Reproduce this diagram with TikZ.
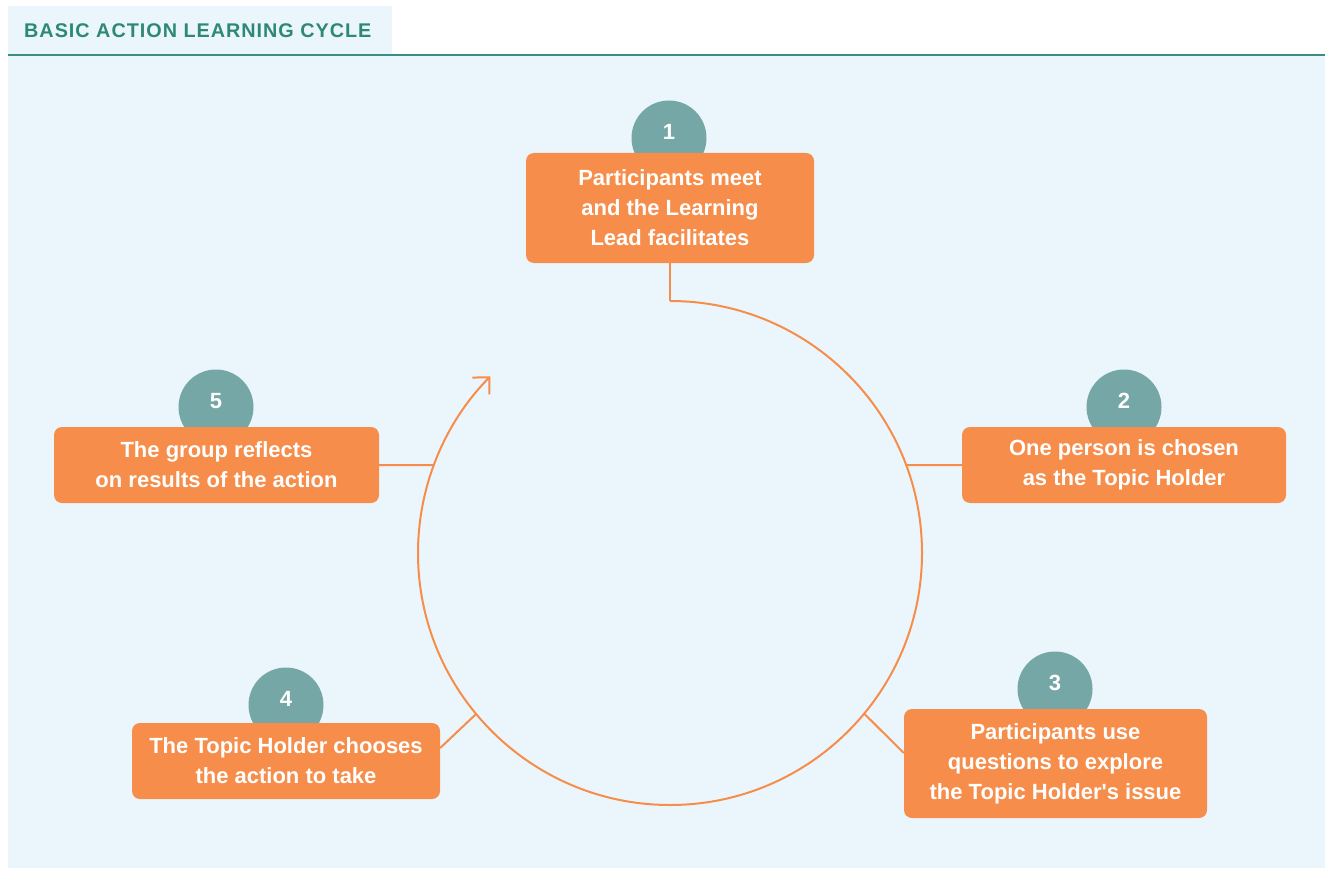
\documentclass[tikz,border=0pt]{standalone}
\usepackage{fontspec}
\setmainfont{Liberation Sans}[Ligatures=TeXOff]
\newfontfamily\titlefont[LetterSpace=5]{Liberation Sans}
\usetikzlibrary{arrows.meta}
\definecolor{bgblue}{HTML}{EBF6FC}
\definecolor{boxorange}{HTML}{F68D4A}
\definecolor{lineorange}{HTML}{F68D4A}
\definecolor{dotteal}{HTML}{74A7A5}
\definecolor{titleteal}{HTML}{2E8878}
\definecolor{ruleteal}{HTML}{3B8E82}
\begin{document}
\begin{tikzpicture}[x=1pt,y=-1pt,
  stepbox/.style={fill=boxorange, rounded corners=8pt, text=white,
    font=\bfseries\fontsize{22}{30}\selectfont, align=center, inner sep=0pt},
  numdot/.style={circle, fill=dotteal, minimum size=75pt, inner sep=0pt},
  numtext/.style={text=white, font=\bfseries\fontsize{22}{26}\selectfont, inner sep=0pt},
  link/.style={draw=lineorange, line width=2pt}]
\useasboundingbox (0,0) rectangle (1325,869);
\fill[bgblue] (8,6) rectangle (392,54);
\fill[bgblue] (8,56) rectangle (1325,868);
\draw[ruleteal, line width=2pt] (8,55) -- (1325,55);
\node[anchor=base west, text=titleteal, inner sep=0pt,
  font=\titlefont\bfseries\fontsize{19.8}{22}\selectfont] (title) at (24,38) {BASIC ACTION LEARNING CYCLE};

% number dots
\node[numdot] (d1) at (669,138) {};
\node[numdot] (d2) at (1124,407) {};
\node[numdot] (d3) at (1055,689) {};
\node[numdot] (d4) at (286,705) {};
\node[numdot] (d5) at (216,407) {};
\node[numtext] (n1) at ([yshift=6pt]d1.center) {1};
\node[numtext] (n2) at ([yshift=6pt]d2.center) {2};
\node[numtext] (n3) at ([yshift=6pt]d3.center) {3};
\node[numtext] (n4) at ([yshift=6pt]d4.center) {4};
\node[numtext] (n5) at ([yshift=6pt]d5.center) {5};

% boxes
\node[stepbox, minimum width=288pt, minimum height=110pt] (b1) at (670,208)
  {Participants meet\\and the Learning\\Lead facilitates};
\node[stepbox, minimum width=324pt, minimum height=76pt] (b2) at (1124,465)
  {One person is chosen\\as the Topic Holder};
\node[stepbox, minimum width=303pt, minimum height=109pt] (b3) at (1055.5,763.5)
  {Participants use\\questions to explore\\the Topic Holder's issue};
\node[stepbox, minimum width=308pt, minimum height=76pt] (b4) at (286,761)
  {The Topic Holder chooses\\the action to take};
\node[stepbox, minimum width=325pt, minimum height=76pt] (b5) at (216.5,465)
  {The group reflects\\on results of the action};

% cycle
\coordinate (ctr) at (670,553);
\coordinate (ptop) at ([shift={(-90:252)}]ctr);
\coordinate (p2) at ([shift={(-20.4:252)}]ctr);
\coordinate (p3) at ([shift={(39.6:252)}]ctr);
\coordinate (p4) at ([shift={(140.3:252)}]ctr);
\coordinate (p5) at ([shift={(200.4:252)}]ctr);

\draw[link, -{Straight Barb[length=12pt, width=24pt, line width=2pt]}]
  (ptop) arc[start angle=-90, end angle=224.5, radius=252];

\draw[link] (b1.south) -- (ptop);
\draw[link] (b2.west) -- (p2);
\draw[link] ([yshift=10.5pt]b3.west) -- (p3);
\draw[link] ([yshift=13pt]b4.east) -- (p4);
\draw[link] (b5.east) -- (p5);
\end{tikzpicture}
\end{document}
